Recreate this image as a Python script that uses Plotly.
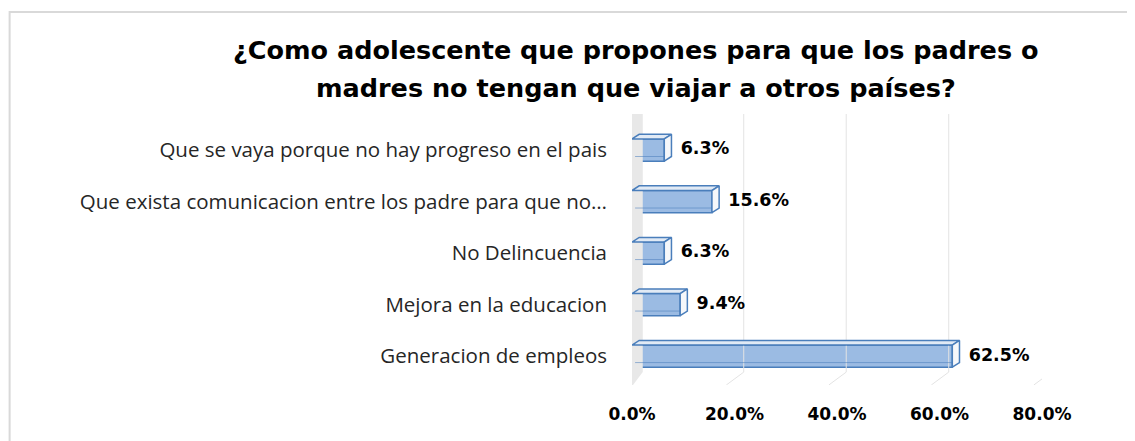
import plotly.graph_objects as go

categories = [
    "Generacion de empleos",
    "Mejora en la educacion",
    "No Delincuencia",
    "Que exista comunicacion entre los padre para que no…",
    "Que se vaya porque no hay progreso en el pais",
]
values = [62.5, 9.4, 6.3, 15.6, 6.3]
value_labels = ["62.5%", "9.4%", "6.3%", "15.6%", "6.3%"]
tick_vals = [0, 20, 40, 60, 80]
tick_text = ["0.0%", "20.0%", "40.0%", "60.0%", "80.0%"]
title_line1 = "¿Como adolescente que propones para que los padres o"
title_line2 = "madres no tengan que viajar a otros países?"

ypos = list(range(len(categories)))
BW = 0.43   # bar thickness (y units)
DX = 1.4    # 3D depth in x units
DY = 0.09   # 3D depth in y units
YTOP = 4.70
YBOT = -0.56

EDGE = "#4A7EBB"

fig = go.Figure()

# left wall (grey)
fig.add_trace(go.Scatter(
    x=[-1.0, -1.0, 2.1, 2.1, 0.2, -1.0],
    y=[YBOT, YTOP, YTOP, YBOT + 0.25, YBOT, YBOT],
    fill="toself", fillcolor="#E8E8E8", line=dict(width=0), mode="lines",
    hoverinfo="skip", showlegend=False))

# back gridlines with floor diagonal
gx, gy = [], []
for t in tick_vals[1:]:
    gx += [t + 1.8, t + 1.8, t - 1.6, None]
    gy += [YTOP, YBOT + 0.25, YBOT, None]
fig.add_trace(go.Scatter(x=gx, y=gy, mode="lines", line=dict(color="#E3E3E3", width=1),
                         hoverinfo="skip", showlegend=False))

# front faces
fig.add_trace(go.Bar(
    x=values, y=ypos, orientation="h", width=BW,
    marker=dict(color="#9BBBE3", line=dict(color=EDGE, width=1.5)),
    hoverinfo="skip", showlegend=False))

# top, side and bottom-edge faces
for yi, v in zip(ypos, values):
    t = yi + BW / 2
    b = yi - BW / 2
    fig.add_trace(go.Scatter(
        x=[0, v, v + DX, DX, 0], y=[t, t, t + DY, t + DY, t],
        fill="toself", fillcolor="#E1EAF5", mode="lines",
        line=dict(color=EDGE, width=1.5), hoverinfo="skip", showlegend=False))
    fig.add_trace(go.Scatter(
        x=[v, v + DX, v + DX, v, v], y=[b, b + DY, t + DY, t, b],
        fill="toself", fillcolor="#F5F7FA", mode="lines",
        line=dict(color=EDGE, width=1.5), hoverinfo="skip", showlegend=False))
    fig.add_trace(go.Scatter(
        x=[0.6, v], y=[b + DY, b + DY], mode="lines",
        line=dict(color="rgba(74,126,187,0.55)", width=1), hoverinfo="skip", showlegend=False))

# data labels
fig.add_trace(go.Scatter(
    x=[v + DX + 1.8 for v in values], y=ypos, mode="text", text=value_labels,
    textposition="middle right",
    textfont=dict(family="DejaVu Sans", size=17.5, color="#000000", weight="bold"),
    hoverinfo="skip", showlegend=False))

annos = [
    dict(text=title_line1, xref="paper", yref="paper", x=0.0098, y=1.236,
         xanchor="center", yanchor="middle", showarrow=False,
         font=dict(family="DejaVu Sans", size=25.5, color="#000000", weight="bold")),
    dict(text=title_line2, xref="paper", yref="paper", x=0.0098, y=1.096,
         xanchor="center", yanchor="middle", showarrow=False,
         font=dict(family="DejaVu Sans", size=25.5, color="#000000", weight="bold")),
]

fig.update_layout(
    width=1135, height=441,
    paper_bgcolor="white", plot_bgcolor="white",
    margin=dict(l=624, r=101, t=106, b=64),
    annotations=annos,
    xaxis=dict(range=[0, 80], tickvals=tick_vals, ticktext=tick_text, showgrid=False,
               zeroline=False, showline=False, ticks="", ticklabelstandoff=17,
               tickfont=dict(family="DejaVu Sans", size=17, color="#000000", weight="bold")),
    yaxis=dict(range=[YBOT, YTOP], tickvals=ypos, ticktext=categories, showgrid=False,
               zeroline=False, showline=False, ticks="", ticklabelstandoff=24,
               tickfont=dict(family="Open Sans", size=20.5, color="#262626")),
    shapes=[
        dict(type="rect", xref="paper", yref="paper", x0=-1.518, x1=1.4, y0=-0.5, y1=1.376,
             line=dict(color="#D9D9D9", width=2), fillcolor="rgba(0,0,0,0)", layer="below"),
    ],
)

fig.write_html("out.html")
